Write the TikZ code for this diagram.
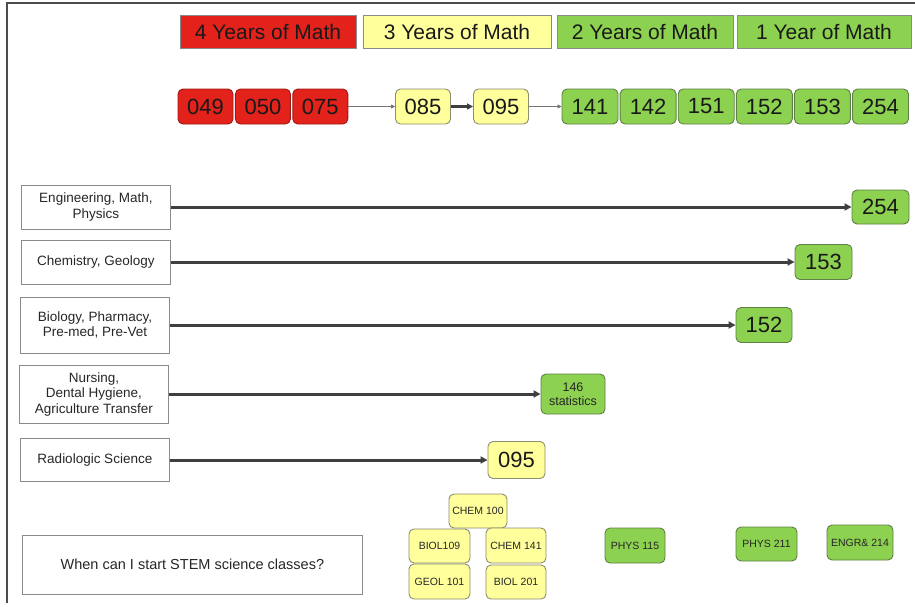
\documentclass[tikz,border=0pt]{standalone}
\usepackage{fontspec}
\setmainfont{Liberation Sans}
\usepackage{xcolor}
\definecolor{mathRed}{HTML}{E2221B}
\definecolor{mathRedLine}{HTML}{9E1A14}
\definecolor{mathYellow}{HTML}{FFFF9C}
\definecolor{mathYellowLine}{HTML}{8C8C6E}
\definecolor{mathGreen}{HTML}{8DD150}
\definecolor{mathGreenLine}{HTML}{5E7F45}
\definecolor{boxGray}{HTML}{8A8A8A}
\definecolor{arrowGray}{HTML}{3F3F3F}
\usetikzlibrary{arrows.meta, positioning}

\begin{document}
\begin{tikzpicture}[x=1pt, y=-1pt,
  hdr/.style={draw=boxGray, line width=0.8pt, minimum height=33pt, inner sep=0pt, text=black!90, font=\fontsize{21}{24}\selectfont},
  redhdr/.style={hdr, fill=mathRed},
  yelhdr/.style={hdr, fill=mathYellow},
  grnhdr/.style={hdr, fill=mathGreen},
  crs/.style={line width=0.9pt, rounded corners=5pt, minimum width=55pt, minimum height=35pt, inner sep=0pt, text=black!90, font=\fontsize{22}{24}\selectfont},
  redcrs/.style={crs, fill=mathRed, draw=mathRedLine},
  yelcrs/.style={crs, fill=mathYellow, draw=mathYellowLine},
  grncrs/.style={crs, fill=mathGreen, draw=mathGreenLine},
  field/.style={draw=boxGray, line width=0.8pt, fill=white, minimum width=149pt, anchor=west, align=center, inner sep=0pt, text=black!85, font=\fontsize{13.5}{15.5}\selectfont},
  sci/.style={line width=0.9pt, rounded corners=5pt, minimum height=34pt, inner sep=0pt, align=center, text=black!85, font=\fontsize{10.5}{12}\selectfont},
  yelsci/.style={sci, fill=mathYellow, draw=mathYellowLine},
  grnsci/.style={sci, fill=mathGreen, draw=mathGreenLine},
  route/.style={-{Triangle[length=7pt,width=7pt]}, line width=3pt, draw=arrowGray},
  link/.style={-{Triangle[length=4pt,width=4pt]}, line width=0.7pt, draw=black!55},
  node distance=1.5pt
]
  \useasboundingbox (0,0) rectangle (915,606);
  \draw[line width=1.3pt, draw=black!70] (7,603) -- (7,3) -- (915,3);

  % years of math
  \node[redhdr, minimum width=176pt] (y4) at (268,31.5) {4 Years of Math};
  \node[yelhdr, minimum width=188pt] (y3) at (457,31.5) {3 Years of Math};
  \node[grnhdr, minimum width=176pt] (y2) at (645,31.5) {2 Years of Math};
  \node[grnhdr, minimum width=174pt] (y1) at (824,31.5) {1 Year of Math};

  % course sequence
  \node[redcrs] (c049) at (205.5,106.5) {049};
  \node[redcrs, right=of c049] (c050) {050};
  \node[redcrs, right=of c050] (c075) {075};
  \node[yelcrs] (c085) at (423,106.5) {085};
  \node[yelcrs] (c095) at (501,106.5) {095};
  \node[grncrs, minimum width=56pt] (c141) at (590,106.5) {141};
  \node[grncrs, minimum width=56pt, right=1.2pt of c141] (c142) {142};
  \node[grncrs, minimum width=56pt, right=1.2pt of c142] (c151) {151};
  \node[grncrs, minimum width=56pt, right=1.2pt of c151] (c152) {152};
  \node[grncrs, minimum width=56pt, right=1.2pt of c152] (c153) {153};
  \node[grncrs, minimum width=56pt, right=1.2pt of c153] (c254) {254};

  \draw[link] (c075) -- (c085);
  \draw[-{Triangle[length=6pt,width=6pt]}, line width=2.8pt, draw=arrowGray] (c085) -- (c095);
  \draw[link] (c095) -- (c141);

  % majors
  \node[field, minimum height=44pt] (eng) at (21,207) {Engineering, Math,\\Physics};
  \node[field, minimum height=44pt] (chem) at (21,262) {Chemistry, Geology};
  \node[field, minimum height=56pt] (bio) at (20,325) {Biology, Pharmacy,\\Pre-med, Pre-Vet};
  \node[field, minimum height=58pt] (nurs) at (19,394) {Nursing,\\Dental Hygiene,\\Agriculture Transfer};
  \node[field, minimum height=43pt] (radio) at (20,460) {Radiologic Science};

  \node[grncrs, minimum width=57pt, minimum height=34pt] (t254) at (880.5,207) {254};
  \node[grncrs, minimum width=57pt, minimum height=35pt] (t153) at (823.5,262) {153};
  \node[grncrs, minimum width=56pt, minimum height=35pt] (t152) at (764,325) {152};
  \node[grnsci, minimum width=64pt, minimum height=40pt, font=\fontsize{12.5}{13.5}\selectfont] (t146) at (573,394) {146\\statistics};
  \node[yelcrs, minimum width=57pt, minimum height=37pt] (t095) at (516.5,460) {095};

  \foreach \a/\b in {eng/t254, chem/t153, bio/t152, nurs/t146, radio/t095}
    \draw[route] (\a) -- (\b);

  % science classes
  \node[field, minimum width=340pt, minimum height=59pt, font=\fontsize{14.5}{16}\selectfont] (when) at (22,564.5) {When can I start STEM science classes?};
  \node[yelsci, minimum width=58pt] (chem100) at (478,511) {CHEM 100};
  \node[yelsci, minimum width=61pt] (biol109) at (439.5,546) {BIOL109};
  \node[yelsci, minimum width=60pt, minimum height=35pt] (chem141) at (516,545.5) {CHEM 141};
  \node[yelsci, minimum width=61pt, minimum height=35pt] (geol101) at (439.5,581.5) {GEOL 101};
  \node[yelsci, minimum width=60pt] (biol201) at (516,582) {BIOL 201};
  \node[grnsci, minimum width=60pt, minimum height=35pt] (phys115) at (635,545.5) {PHYS 115};
  \node[grnsci, minimum width=61pt] (phys211) at (766.5,544) {PHYS 211};
  \node[grnsci, minimum width=66pt, minimum height=35pt] (engr214) at (860,542.5) {ENGR\& 214};
\end{tikzpicture}
\end{document}
